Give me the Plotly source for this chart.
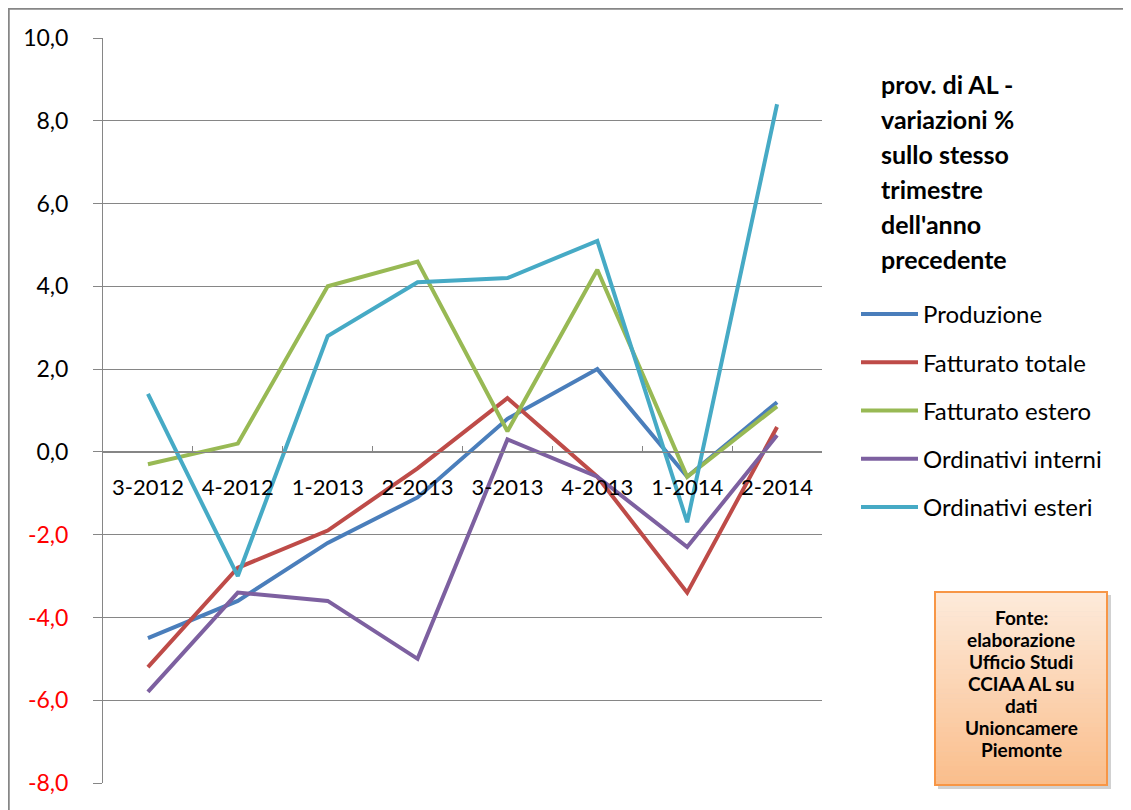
import plotly.graph_objects as go

categories = ["3-2012", "4-2012", "1-2013", "2-2013", "3-2013", "4-2013", "1-2014", "2-2014"]
produzione = [-4.5, -3.6, -2.2, -1.1, 0.8, 2.0, -0.6, 1.2]
fatturato_totale = [-5.2, -2.8, -1.9, -0.4, 1.3, -0.6, -3.4, 0.6]
fatturato_estero = [-0.3, 0.2, 4.0, 4.6, 0.5, 4.4, -0.6, 1.1]
ordinativi_interni = [-5.8, -3.4, -3.6, -5.0, 0.3, -0.6, -2.3, 0.4]
ordinativi_esteri = [1.4, -3.0, 2.8, 4.1, 4.2, 5.1, -1.7, 8.4]

series_names = ["Produzione", "Fatturato totale", "Fatturato estero",
                "Ordinativi interni", "Ordinativi esteri"]
series_values = [produzione, fatturato_totale, fatturato_estero,
                 ordinativi_interni, ordinativi_esteri]
series_colors = ["#4A7EBB", "#BE4B48", "#98B954", "#7D60A0", "#46AAC5"]

y_ticks = [-8, -6, -4, -2, 0, 2, 4, 6, 8, 10]
title_lines = ["prov. di AL -", "variazioni %", "sullo stesso", "trimestre",
               "dell'anno", "precedente"]
source_lines = ["Fonte:", "elaborazione", "Ufficio Studi", "CCIAA AL su",
                "dati", "Unioncamere", "Piemonte"]

FONT = "Lato"
OFF = 8  # page offset of the figure (default body margin)
W, H = 1131 - OFF, 810 - OFF
L, R, T, B = 95, 309, 30, 27
PW, PH = W - L - R, H - T - B


def px_x(px):
    return (px - OFF - L) / PW


def px_y(py):
    return (H - B - (py - OFF)) / PH


fig = go.Figure()
for name, vals, col in zip(series_names, series_values, series_colors):
    fig.add_trace(go.Scatter(
        x=categories, y=vals, name=name, mode="lines",
        line=dict(color=col, width=4), legendgroup=name,
    ))


def fmt_tick(v):
    s = f"{v:.1f}".replace(".", ",")
    if v < 0:
        return f"<span style='color:#FF0000'>{s}</span>"
    return s


fig.update_layout(
    width=W, height=H,
    margin=dict(l=L, r=R, t=T, b=B, pad=0),
    paper_bgcolor="white", plot_bgcolor="white",
    font=dict(family=FONT, size=22, color="#000000"),
    showlegend=True,
    legend=dict(
        x=px_x(856), y=px_y(292), xanchor="left", yanchor="top",
        font=dict(family=FONT, size=24, color="#000000"),
        traceorder="grouped", tracegroupgap=14, itemwidth=57,
        bgcolor="rgba(0,0,0,0)",
    ),
    xaxis=dict(
        type="category", range=[-0.5, len(categories) - 0.5],
        anchor="free", position=(0 - y_ticks[0]) / (y_ticks[-1] - y_ticks[0]),
        showgrid=False, showline=True, linecolor="#868686", linewidth=1,
        ticks="inside", ticklen=6, tickcolor="#868686", tickson="boundaries",
        tickfont=dict(family=FONT, size=22, color="#000000"),
        ticklabelstandoff=16, zeroline=False,
    ),
    yaxis=dict(
        range=[y_ticks[0], y_ticks[-1]],
        tickvals=y_ticks, ticktext=[fmt_tick(v) for v in y_ticks],
        showgrid=True, gridcolor="#868686", gridwidth=1,
        showline=True, linecolor="#868686", linewidth=1,
        ticks="outside", ticklen=9, tickcolor="#868686",
        tickfont=dict(family=FONT, size=23, color="#000000"),
        ticklabelstandoff=20, zeroline=False,
    ),
)

shapes = []
# outer chart border
shapes.append(dict(type="rect", xref="paper", yref="paper",
                   x0=px_x(8.5), x1=px_x(1150), y0=px_y(830), y1=px_y(8.5),
                   line=dict(color="#868686", width=2.5), fillcolor="rgba(0,0,0,0)",
                   layer="below"))

# source box: shadow + gradient strips + border
bx0, bx1, by0, by1 = 935, 1107, 592, 785
shapes.append(dict(type="rect", xref="paper", yref="paper",
                   x0=px_x(bx0 + 3), x1=px_x(bx1 + 4), y0=px_y(by1 + 4), y1=px_y(by0 + 3),
                   line=dict(width=0), fillcolor="rgba(0,0,0,0.18)"))
n = 40
c0 = (253, 234, 218)
c1 = (250, 190, 140)
for i in range(n):
    t = i / (n - 1)
    col = tuple(round(c0[k] + (c1[k] - c0[k]) * t) for k in range(3))
    ya = by0 + (by1 - by0) * i / n
    yb = by0 + (by1 - by0) * (i + 1) / n
    shapes.append(dict(type="rect", xref="paper", yref="paper",
                       x0=px_x(bx0), x1=px_x(bx1), y0=px_y(yb + 0.5), y1=px_y(ya),
                       line=dict(width=0), fillcolor="rgb(%d,%d,%d)" % col))
shapes.append(dict(type="rect", xref="paper", yref="paper",
                   x0=px_x(bx0), x1=px_x(bx1), y0=px_y(by1), y1=px_y(by0),
                   line=dict(color="#F79646", width=2), fillcolor="rgba(0,0,0,0)"))
fig.update_layout(shapes=shapes)

annotations = []
for i, line in enumerate(title_lines):
    annotations.append(dict(
        xref="paper", yref="paper", x=px_x(879), y=px_y(84 + 35 * i),
        xanchor="left", yanchor="middle", showarrow=False,
        text=f"<b>{line}</b>", font=dict(family=FONT, size=25, color="#000000"),
    ))
for i, line in enumerate(source_lines):
    annotations.append(dict(
        xref="paper", yref="paper", x=px_x((bx0 + bx1) / 2), y=px_y(617 + 22 * i),
        xanchor="center", yanchor="middle", showarrow=False, align="center",
        text=f"<b>{line}</b>", font=dict(family=FONT, size=19, color="#000000"),
    ))
fig.update_layout(annotations=annotations)

fig.write_html("out.html")
